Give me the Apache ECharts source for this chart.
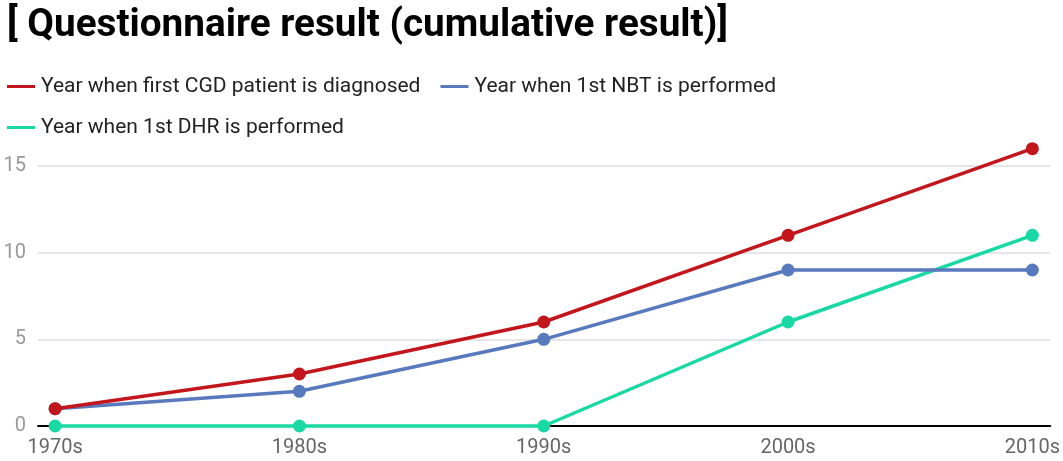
<html>
<head>
<meta charset="UTF-8">
<title>Questionnaire result</title>
<script src="https://cdn.jsdelivr.net/npm/echarts@6/dist/echarts.min.js"></script>
<style>
    html, body { margin: 0; padding: 0; background: #fff; }
    #main { width: 1063px; height: 461px; }
</style>
</head>
<body>
<div id="main"></div>
<script>
    // data
    const decades = ['1970s', '1980s', '1990s', '2000s', '2010s'];
    const firstCGD = [1, 3, 6, 11, 16];
    const firstNBT = [1, 2, 5, 9, 9];
    const firstDHR = [0, 0, 0, 6, 11];
    const yTicks = [0, 5, 10, 15];

    const names = [
        'Year when first CGD patient is diagnosed',
        'Year when 1st NBT is performed',
        'Year when 1st DHR is performed'
    ];
    const colors = ['#c3161c', '#5879bd', '#18d9a3'];

    function pairs(arr) {
        return arr.map(function (v, i) { return [i, v]; });
    }

    function lineSeries(name, values, color, z) {
        return {
            name: name,
            type: 'line',
            data: pairs(values),
            symbol: 'circle',
            symbolSize: 13,
            clip: false,
            z: z,
            lineStyle: { width: 3.5, color: color },
            itemStyle: { color: color }
        };
    }

    const chart = echarts.init(document.getElementById('main'));
    chart.setOption({
        animation: false,
        textStyle: { fontFamily: 'Roboto' },
        title: {
            text: '[ Questionnaire result (cumulative result)]',
            left: 2,
            top: 2,
            textStyle: { fontFamily: 'Roboto', fontWeight: 'bold', fontSize: 38.7, color: '#000' }
        },
        legend: {
            left: 2,
            top: 71,
            width: 900,
            itemWidth: 28,
            itemHeight: 3,
            itemGap: 20,
            icon: 'rect',
            textStyle: { fontFamily: 'Roboto', fontSize: 21, color: '#222', padding: [0, 0, 0, 1] },
            data: names
        },
        grid: { left: 38, right: 11, top: 140, bottom: 35 },
        xAxis: {
            type: 'value',
            min: -0.07,
            max: 4.073,
            axisLine: { show: true, onZero: true, lineStyle: { color: '#000', width: 2 } },
            axisTick: { show: false },
            splitLine: { show: false },
            axisLabel: {
                customValues: [0, 1, 2, 3, 4],
                formatter: function (v) { return decades[Math.round(v)]; },
                color: '#666',
                fontSize: 20,
                margin: 12
            }
        },
        yAxis: {
            type: 'value',
            min: 0,
            max: 16.5,
            interval: 5,
            axisLine: { show: false },
            axisTick: { show: false },
            axisLabel: {
                color: '#999',
                fontSize: 20,
                margin: 12,
                formatter: function (v) { return yTicks.indexOf(v) >= 0 ? String(v) : ''; }
            },
            splitLine: {
                lineStyle: { color: ['#dedede', '#dedede', '#dedede', '#dedede', 'rgba(0,0,0,0)'], width: 1.5 }
            }
        },
        series: [
            lineSeries(names[0], firstCGD, colors[0], 4),
            lineSeries(names[1], firstNBT, colors[1], 3),
            lineSeries(names[2], firstDHR, colors[2], 2)
        ]
    });
</script>
</body>
</html>
